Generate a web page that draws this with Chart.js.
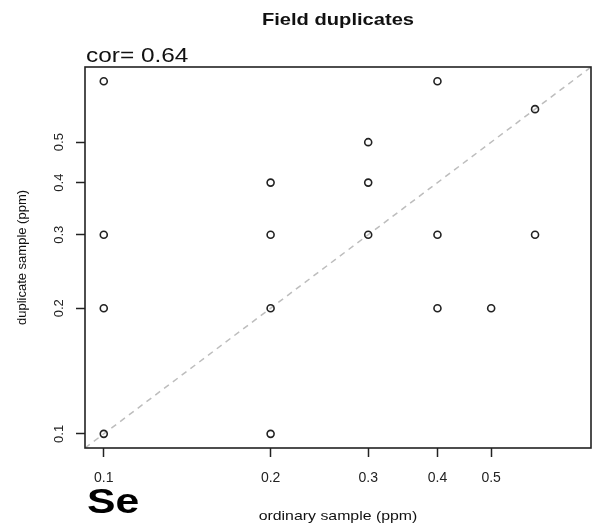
<!DOCTYPE html>
<html lang="en">
<head>
    <meta charset="UTF-8">
    <title>Field duplicates</title>
    <script src="https://cdn.jsdelivr.net/npm/chart.js"></script>
    <style>
        html, body { margin: 0; padding: 0; background: #fff; overflow: hidden; }
        #wrap { width: 593px; height: 528px; position: relative; }
    </style>
</head>
<body>
    <div id="wrap"><canvas id="dupChart"></canvas></div>

    <script>
        // data (ppm)
        const ordinary  = [0.1, 0.1, 0.1, 0.1, 0.2, 0.2, 0.2, 0.2, 0.3, 0.3, 0.3, 0.4, 0.4, 0.4, 0.5, 0.6, 0.6];
        const duplicate = [0.7, 0.3, 0.2, 0.1, 0.4, 0.3, 0.2, 0.1, 0.5, 0.4, 0.3, 0.7, 0.3, 0.2, 0.2, 0.6, 0.3];
        const xTicks = [0.1, 0.2, 0.3, 0.4, 0.5];
        const yTicks = [0.1, 0.2, 0.3, 0.4, 0.5];
        const axisLimits = [0.0925, 0.757]; // log axis range (data range + 4%)
        const corText = 'cor= 0.64';
        const element = 'Se';

        const FONT = '"Liberation Sans", Arial, sans-serif';
        const SX = 1.22; // the original picture is a bit stretched sideways

        const points = ordinary.map((x, i) => ({ x: x, y: duplicate[i] }));
        const diagonal = axisLimits.map(v => ({ x: v, y: v }));

        // draw text stretched horizontally
        function wideText(c, txt, x, y, align) {
            const w = c.measureText(txt).width * SX;
            let x0 = x;
            if (align === 'center') x0 = x - w / 2;
            c.save();
            c.textAlign = 'left';
            c.translate(x0, y);
            c.scale(SX, 1);
            c.fillText(txt, 0, 0);
            c.restore();
        }

        // box + extra labels, R style
        const annotate = {
            id: 'annotate',
            afterDraw(chart) {
                const c = chart.ctx;
                const a = chart.chartArea;
                const mid = (a.left + a.right) / 2;
                c.save();
                c.strokeStyle = '#222';
                c.lineWidth = 1.6;
                c.strokeRect(a.left, a.top, a.right - a.left, a.bottom - a.top);

                c.fillStyle = '#111';
                c.textBaseline = 'alphabetic';
                c.font = 'bold 16.5px ' + FONT;
                wideText(c, 'Field duplicates', mid, 25, 'center');

                c.font = '13px ' + FONT;
                wideText(c, 'ordinary sample (ppm)', mid, 520, 'center');

                c.save();
                c.textAlign = 'center';
                c.translate(26, (a.top + a.bottom) / 2);
                c.rotate(-Math.PI / 2);
                c.fillText('duplicate sample (ppm)', 0, 0);
                c.restore();

                c.font = '20px ' + FONT;
                wideText(c, corText, a.left + 1, 62, 'left');

                c.fillStyle = '#000';
                c.font = 'bold 35px ' + FONT;
                wideText(c, element, a.left + 2, 513, 'left');
                c.restore();
            }
        };

        const ctx = document.getElementById('dupChart').getContext('2d');
        const myChart = new Chart(ctx, {
            type: 'scatter',
            data: {
                datasets: [{
                    label: 'duplicates',
                    data: points,
                    pointStyle: 'circle',
                    pointRadius: 3.5,
                    pointBorderWidth: 1.6,
                    borderColor: '#222',
                    backgroundColor: 'rgba(255,255,255,0)',
                    order: 1
                },
                {
                    label: '1:1',
                    type: 'line',
                    data: diagonal,
                    borderColor: '#bdbdbd',
                    borderWidth: 1.5,
                    borderDash: [6, 5],
                    pointRadius: 0,
                    fill: false,
                    order: 2
                }]
            },
            options: {
                responsive: true,
                maintainAspectRatio: false,
                animation: false,
                layout: { autoPadding: false, padding: { top: 67, right: 2, left: 0, bottom: 0 } },
                plugins: {
                    legend: { display: false },
                    title: { display: false },
                    tooltip: { enabled: false }
                },
                scales: {
                    x: {
                        type: 'logarithmic',
                        min: axisLimits[0],
                        max: axisLimits[1],
                        afterBuildTicks: s => { s.ticks = xTicks.map(v => ({ value: v })); },
                        afterFit: s => { s.height = 80; s.paddingLeft = 0; s.paddingRight = 0; },
                        border: { display: false },
                        grid: { drawOnChartArea: false, drawTicks: true, tickLength: 9, color: '#222', tickWidth: 1.5 },
                        ticks: {
                            color: '#222',
                            font: { family: FONT, size: 14 },
                            padding: 13,
                            maxRotation: 0,
                            autoSkip: false,
                            callback: v => String(v)
                        }
                    },
                    y: {
                        type: 'logarithmic',
                        min: axisLimits[0],
                        max: axisLimits[1],
                        afterBuildTicks: s => { s.ticks = yTicks.map(v => ({ value: v })); },
                        afterFit: s => { s.width = 85; s.paddingTop = 0; s.paddingBottom = 0; },
                        border: { display: false },
                        grid: { drawOnChartArea: false, drawTicks: true, tickLength: 9, color: '#222', tickWidth: 1.5 },
                        ticks: {
                            color: '#222',
                            font: { family: FONT, size: 13 },
                            padding: 8,
                            minRotation: 90,
                            maxRotation: 90,
                            crossAlign: 'center',
                            autoSkip: false,
                            callback: v => String(v)
                        }
                    }
                }
            },
            plugins: [annotate]
        });
    </script>
</body>
</html>
